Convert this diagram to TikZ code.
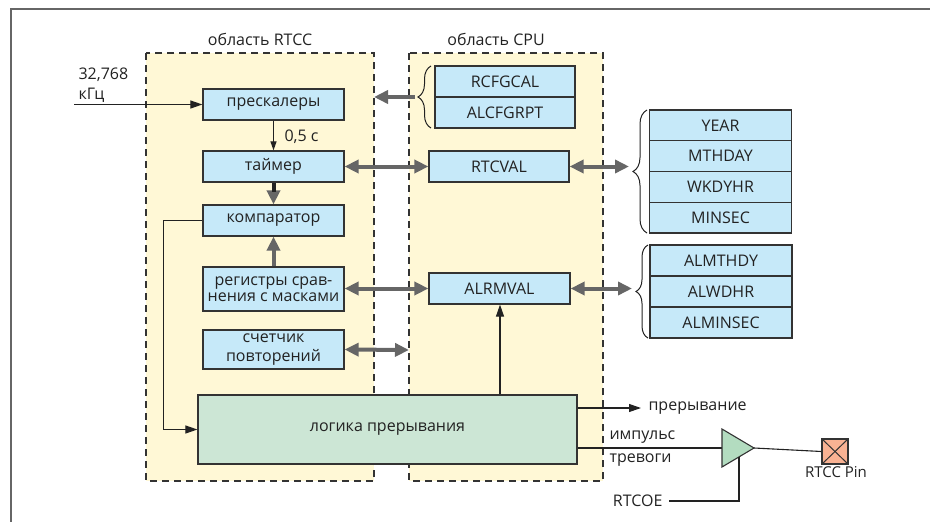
\documentclass[tikz,border=0pt]{standalone}
\usepackage{fontspec}
\setmainfont{Open Sans}
\usetikzlibrary{arrows.meta,decorations.pathreplacing,calc}
\definecolor{regfill}{HTML}{FFF8D6}
\definecolor{blufill}{HTML}{C6E9F9}
\definecolor{grnfill}{HTML}{CCE6D5}
\definecolor{bufgrn}{HTML}{B3DCC0}
\definecolor{pinfill}{HTML}{F9B293}
\definecolor{arrgray}{HTML}{666666}
\definecolor{edge}{HTML}{333333}
\definecolor{ink}{HTML}{222222}
\tikzset{
  lbl/.style={font=\fontsize{16}{18}\selectfont, text=ink},
  region/.style={draw=edge, fill=regfill, line width=1.1pt, dash pattern=on 7pt off 5pt},
  blk/.style={lbl, draw=edge, fill=blufill, line width=1.2pt, minimum width=141pt, minimum height=31pt, inner sep=1pt},
  regcell/.style={blk, minimum width=140pt, minimum height=31pt},
  garrow/.style={draw=arrgray, line width=4pt, -{Triangle[length=14pt,width=13pt]}},
  gdbl/.style={draw=arrgray, line width=4pt, {Triangle[length=14pt,width=13pt]}-{Triangle[length=14pt,width=13pt]}},
  tarrow/.style={draw=ink, line width=1.1pt, -{Triangle[length=12pt,width=8pt]}},
  tline/.style={draw=ink, line width=1.1pt},
  bracestyle/.style={draw=ink, line width=1pt, decorate},
}
\begin{document}
\begin{tikzpicture}[x=1pt,y=-1pt]
\useasboundingbox (0,0) rectangle (930,522);
% frame
\draw[draw=arrgray, line width=2pt] (11,522) -- (11,9) -- (930,9);
% regions
\path[region] (146,53) rectangle (374,481);
\path[region] (409,53) rectangle (603,481);
\node[lbl] (rtcctitle) at (260,39) {область RTCC};
\node[lbl] (cputitle) at (496,39) {область CPU};
% RTCC blocks
\node[blk] (presc) at (273.5,104.5) {прескалеры};
\node[blk] (timer) at (273.5,166.5) {таймер};
\node[blk] (comp) at (273.5,220.5) {компаратор};
\node[blk, minimum height=44pt, align=center, font=\fontsize{16}{16}\selectfont] (regs) at (273.5,289) {регистры срав-\\нения с масками};
\node[blk, minimum height=39pt, align=center, font=\fontsize{16}{18.5}\selectfont] (cnt) at (273.5,349.5) {счетчик\\повторений};
\node[blk, fill=grnfill, minimum width=379pt, minimum height=69pt] (logic) at (387.5,429.5) {логика прерывания};
% CPU blocks
\node[regcell] (rcfg) at (505,81.5) {RCFGCAL};
\node[regcell] (alcfg) at (505,112.5) {ALCFGRPT};
\node[regcell] (rtcval) at (499,166.5) {RTCVAL};
\node[regcell, minimum width=141pt] (alrmval) at (499.5,288.5) {ALRMVAL};
% right register stacks
\node[regcell, minimum width=142pt, minimum height=30.75pt] (year) at (720.5,125.4) {YEAR};
\node[regcell, minimum width=142pt, minimum height=30.75pt] (mthday) at (720.5,156.1) {MTHDAY};
\node[regcell, minimum width=142pt, minimum height=30.75pt] (wkdyhr) at (720.5,186.9) {WKDYHR};
\node[regcell, minimum width=142pt, minimum height=30.75pt] (minsec) at (720.5,217.6) {MINSEC};
\node[regcell, minimum width=142pt] (almthdy) at (721,260.5) {ALMTHDY};
\node[regcell, minimum width=142pt] (alwdhr) at (721,291.5) {ALWDHR};
\node[regcell, minimum width=142pt] (alminsec) at (721,322.5) {ALMINSEC};
% braces
\draw[bracestyle, decoration={brace, amplitude=13pt}] (431,128) -- (431,66);
\draw[bracestyle, decoration={brace, amplitude=14pt}] (647,233) -- (647,110);
\draw[bracestyle, decoration={brace, amplitude=12pt}] (648,338) -- (648,245);
% coordinates for free ends
\coordinate (cfgtip) at (415,97);
\coordinate (rtccedge) at (374,97);
\coordinate (rtcbr) at (629,166.5);
\coordinate (almbr) at (632,288.5);
\coordinate (cpuedge) at (409,350);
\coordinate (in) at (74,104.5);
\coordinate (upx) at (500,0);
\coordinate (intend) at (641,408);
\coordinate (bufin) at (722,448);
\coordinate (buftop) at (722,429);
\coordinate (bufbot) at (722,467);
\coordinate (buftip) at (754,448);
\coordinate (oex) at (739,0);
\coordinate (oeend) at (669,501);
% gray bus arrows
\draw[garrow] (cfgtip) -- (rtccedge);
\draw[gdbl] (timer.east) -- (rtcval.west);
\draw[gdbl] (rtcval.east) -- (rtcbr);
\draw[gdbl] (regs.east |- alrmval) -- (alrmval.west);
\draw[gdbl] (alrmval.east) -- (almbr);
\draw[gdbl] (cnt.east) -- (cpuedge);
\draw[garrow] (timer.south) -- (comp.north);
\draw[draw=ink, line width=4pt] (timer.south) -- ++(0,9);
\draw[garrow] (regs.north) -- (comp.south);
% thin signal lines
\draw[tarrow] (in) -- (presc.west);
\node[lbl, align=left, anchor=west, font=\fontsize{16}{20}\selectfont] (freq) at (75,85) {32,768\\кГц};
\draw[draw=ink, line width=1.1pt, -{Triangle[length=9pt,width=6pt]}] (presc.south) -- (timer.north);
\node[lbl, anchor=west] (halfsec) at (281,137) {0,5 с};
\draw[tarrow] (comp.west) -- ++(-39,0) |- (logic.west);
\draw[tarrow] (logic.north -| upx) -- (alrmval.south -| upx);
\draw[tarrow] (logic.east |- intend) -- (intend);
\node[lbl, anchor=west] (intlbl) at (645,408) {прерывание};
\draw[tline] (logic.east |- bufin) -- (bufin);
\node[lbl, anchor=west] (imp1) at (606,437) {импульс};
\node[lbl, anchor=west] (imp2) at (606,460) {тревоги};
% buffer
\draw[draw=edge, fill=bufgrn, line width=1.1pt] (buftop) -- (buftip) -- (bufbot) -- cycle;
\node[draw=edge, fill=pinfill, line width=1.2pt, minimum width=26pt, minimum height=25pt, inner sep=0pt] (pin) at (835,451.5) {};
\draw[draw=edge, line width=1pt] (pin.north west) -- (pin.south east) (pin.north east) -- (pin.south west);
\draw[tline] (buftip) -- (pin.west);
\node[lbl, anchor=north, font=\fontsize{15}{18}\selectfont] (pinlbl) at (836,463) {RTCC Pin};
\node[lbl, anchor=east] (rtcoe) at (666,501) {RTCOE};
\draw[tline] (oeend) -| ($(oex |- bufbot)+(0,-10)$);
\end{tikzpicture}
\end{document}
